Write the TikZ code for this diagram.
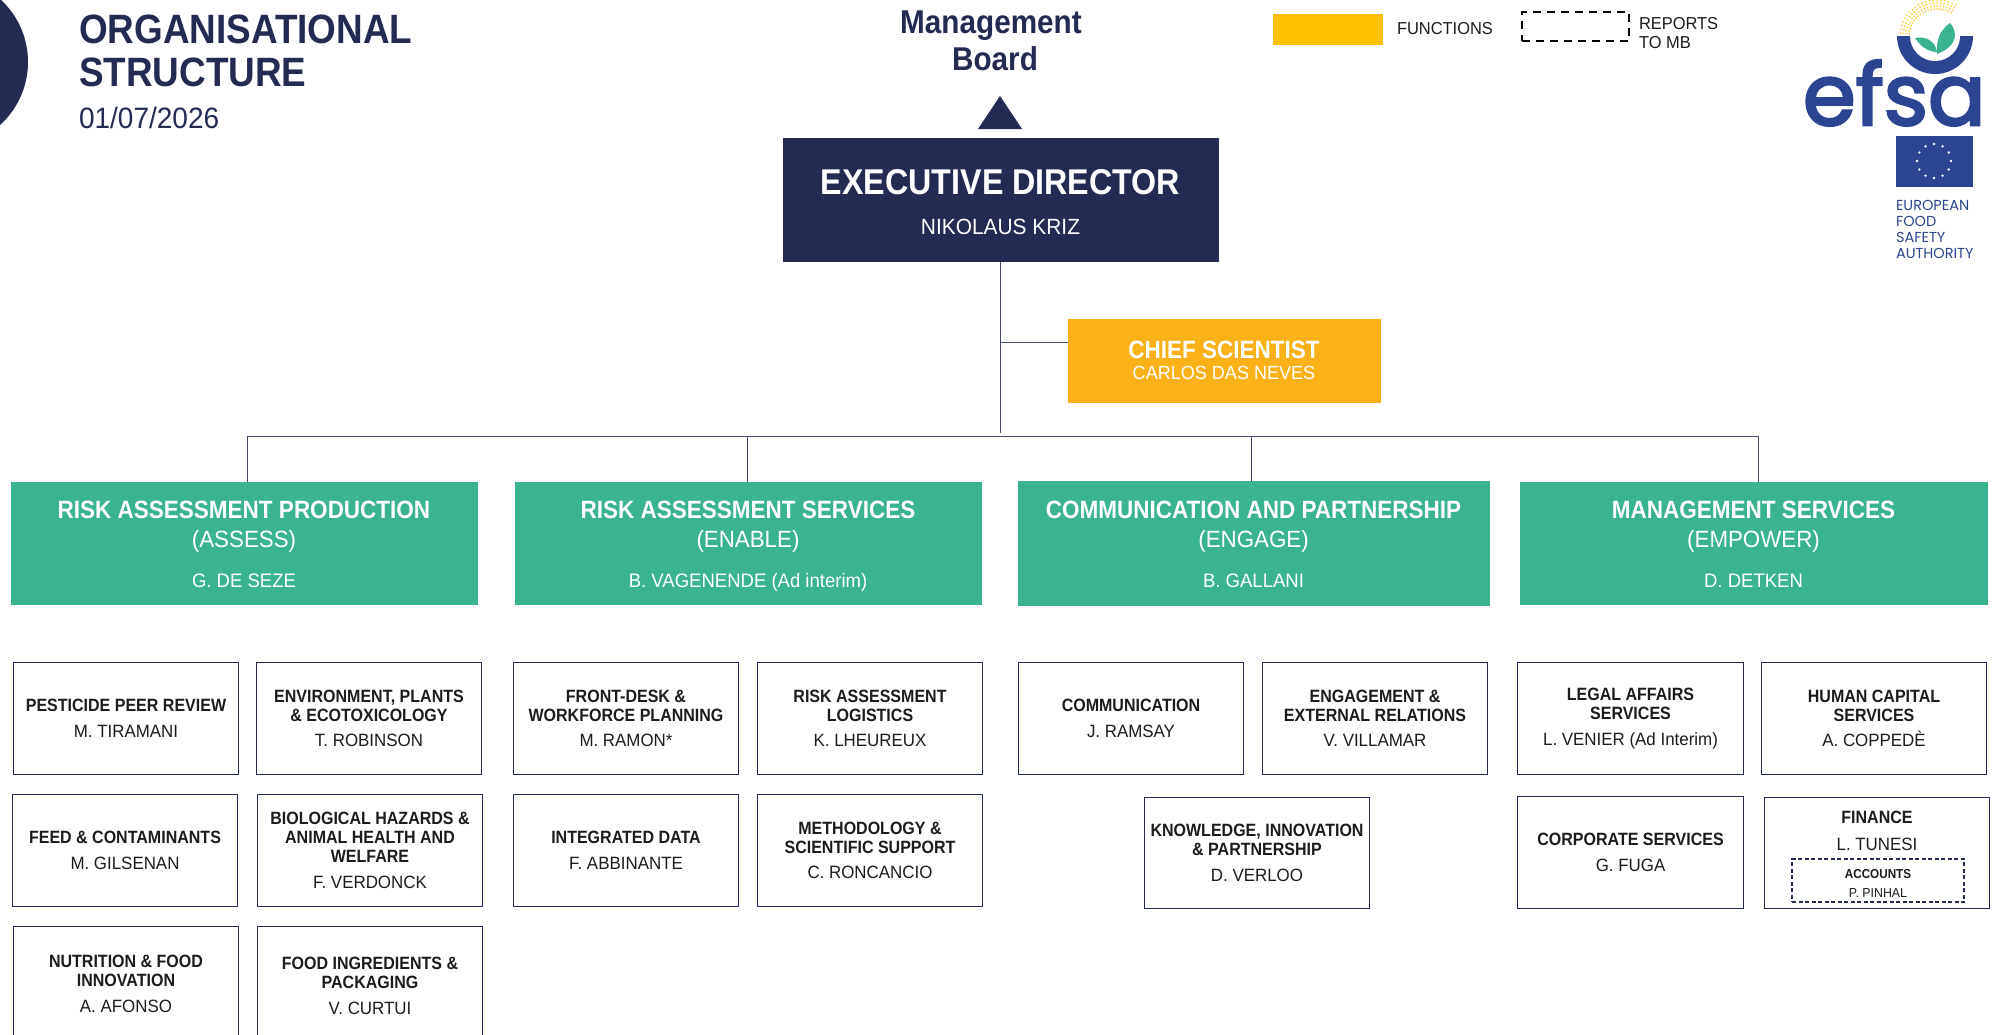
\documentclass[tikz,border=0pt]{standalone}
\usepackage{fontspec}
\setmainfont{Liberation Sans}[FakeStretch=0.95,BoldFeatures={FakeStretch=0.9}]
\newfontfamily\logofont{Poppins}[Scale=1]
\newfontfamily\logoheavy{Poppins}[FakeBold=3]
\definecolor{navy}{HTML}{232B52}
\definecolor{teal}{HTML}{3AB391}
\definecolor{amber}{HTML}{FDB119}
\definecolor{legendy}{HTML}{FFC000}
\definecolor{efsablue}{HTML}{2B4593}
\definecolor{inkdark}{HTML}{1C1C1C}
\newcommand\fs[2]{\fontsize{#1}{#2}\selectfont}
\newcommand\nl{\\\bfseries }
\tikzset{
  boxbase/.style={rectangle,inner sep=0pt,outer sep=0pt,align=center},
  unitbox/.style={boxbase,draw=navy,line width=1.4pt,fill=white,text=inkdark,font=\fs{17.8}{19}},
  divbox/.style={boxbase,fill=teal,text=white,font=\fs{19.5}{24}},
  link/.style={draw=navy!85,line width=1pt},
  plain/.style={inner sep=0pt,outer sep=0pt},
}
\newcommand\placebox[7][unitbox]{%
  \node[#1,minimum width={(#5-#3-1)*1pt},minimum height={(#6-#4-1)*1pt}] (#2) at ({(#3+#5)/2},{(#4+#6)/2}) {#7};}
\newcommand\unitb[7]{\placebox{#1}{#2}{#3}{#4}{#5}{\bfseries #6\\[6.5pt]\mdseries #7}}
\newcommand\divb[8]{\placebox[divbox]{#1}{#2}{#3}{#4}{#5}{{\rule{0pt}{25pt}\fs{25}{29}\bfseries #6}\\[5pt]{\fs{23.5}{29}#7}\\[16pt]#8\rule[-5pt]{0pt}{5pt}}}
\begin{document}
\begin{tikzpicture}[x=1pt,y=-1pt]
\useasboundingbox (0,0) rectangle (1993,1034);
\clip (0,0) rectangle (1993,1034);
% header
\fill[navy] (-57,62) circle (85);
\node[plain,anchor=base west,text=navy,font=\fs{41}{43}\bfseries] (title1) at (79,43) {ORGANISATIONAL};
\node[plain,anchor=base west,text=navy,font=\fs{41}{43}\bfseries] (title2) at (79,86) {STRUCTURE};
\node[plain,anchor=base west,text=navy,font=\fs{29.5}{30}] (date) at (79,128) {01/07/2026};
\node[plain,text=navy,font=\fs{33}{37}\bfseries,align=center] (mb) at (991,41) {Management\\\hspace*{8pt}Board};
\fill[navy] (1000,96) -- (1022,129) -- (978,129) -- cycle;
% legend
\node[boxbase,fill=legendy,minimum width=110pt,minimum height=31pt] (legf) at (1328,29.5) {};
\node[plain,anchor=west,text=inkdark,font=\fs{17.3}{20}] (legft) at (1397,29) {FUNCTIONS};
\node[boxbase,draw=black,dash pattern=on 8pt off 6pt,line width=1.6pt,minimum width=107pt,minimum height=29pt] (legr) at (1575.5,26.5) {};
\node[plain,anchor=west,text=inkdark,font=\fs{17.3}{19},align=left] (legrt) at (1639,33) {REPORTS\\TO MB};
% top boxes
\placebox[boxbase,fill=navy,text=white,font=\fs{22}{25}]{ed}{782}{137}{1219}{262}{{\rule{0pt}{30pt}\fs{35.8}{40}\bfseries EXECUTIVE DIRECTOR}\\[15.5pt]NIKOLAUS KRIZ}
\placebox[boxbase,fill=amber,text=white,font=\fs{19}{21}]{chief}{1067}{318}{1381}{403}{{\fs{25}{25}\bfseries CHIEF SCIENTIST}\\CARLOS DAS NEVES}
% divisions
\divb{d1}{10}{481}{478}{605}{RISK ASSESSMENT PRODUCTION}{(ASSESS)}{G. DE SEZE}
\divb{d2}{514}{481}{982}{605}{RISK ASSESSMENT SERVICES}{(ENABLE)}{B. VAGENENDE (Ad interim)}
\divb{d3}{1017}{480}{1490}{606}{COMMUNICATION AND PARTNERSHIP}{(ENGAGE)}{B. GALLANI}
\divb{d4}{1519}{481}{1988}{605}{MANAGEMENT SERVICES}{(EMPOWER)}{D. DETKEN}
% connectors
\coordinate (trunkend) at (1000,433);
\coordinate (trunkc) at (1000,342);
\coordinate (b1) at (247,436);
\coordinate (b2) at (747,436);
\coordinate (b3) at (1251,436);
\coordinate (b4) at (1758,436);
\draw[link] (ed.south -| trunkend) -- (trunkend);
\draw[link] (trunkc) -- (trunkc -| chief.west);
\draw[link] (b1) -- (b4);
\draw[link] (b1) -- (b1 |- d1.north);
\draw[link] (b2) -- (b2 |- d2.north);
\draw[link] (b3) -- (b3 |- d3.north);
\draw[link] (b4) -- (b4 |- d4.north);
% units row 1
\unitb{u11}{13}{662}{239}{775}{PESTICIDE PEER REVIEW}{M. TIRAMANI}
\unitb{u12}{256}{662}{482}{775}{ENVIRONMENT, PLANTS\nl\& ECOTOXICOLOGY}{T. ROBINSON}
\unitb{u13}{513}{662}{739}{775}{FRONT-DESK \&\nl WORKFORCE PLANNING}{M. RAMON*}
\unitb{u14}{757}{662}{983}{775}{RISK ASSESSMENT\nl LOGISTICS}{K. LHEUREUX}
\unitb{u15}{1018}{662}{1244}{775}{COMMUNICATION}{J. RAMSAY}
\unitb{u16}{1262}{662}{1488}{775}{ENGAGEMENT \&\nl EXTERNAL RELATIONS}{V. VILLAMAR}
\unitb{u17}{1517}{662}{1744}{775}{LEGAL AFFAIRS\nl SERVICES}{L. VENIER (Ad Interim)}
\unitb{u18}{1761}{662}{1987}{775}{HUMAN CAPITAL\nl SERVICES}{A. COPPEDÈ}
% units row 2
\unitb{u21}{12}{794}{238}{907}{FEED \& CONTAMINANTS}{M. GILSENAN}
\unitb{u22}{257}{794}{483}{907}{BIOLOGICAL HAZARDS \&\nl ANIMAL HEALTH AND\nl WELFARE}{F. VERDONCK}
\unitb{u23}{513}{794}{739}{907}{INTEGRATED DATA}{F. ABBINANTE}
\unitb{u24}{757}{794}{983}{907}{METHODOLOGY \&\nl SCIENTIFIC SUPPORT}{C. RONCANCIO}
\unitb{u25}{1144}{797}{1370}{909}{KNOWLEDGE, INNOVATION\nl\& PARTNERSHIP}{D. VERLOO}
\unitb{u26}{1517}{796}{1744}{909}{CORPORATE SERVICES}{G. FUGA}
\placebox{u27}{1764}{797}{1990}{909}{}
\node[plain,anchor=north,align=center,text=inkdark,font=\fs{17.8}{19}] (fin) at (u27.north) {\rule{0pt}{26pt}\bfseries FINANCE\\[8pt]\mdseries L. TUNESI};
\node[boxbase,draw=navy,dash pattern=on 4pt off 2.5pt,line width=1.2pt,minimum width=172pt,minimum height=43pt,text=inkdark,font=\fs{13}{16}] (acc) at (1878,880.5) {\rule{0pt}{15pt}\bfseries ACCOUNTS\\[3pt]\mdseries P. PINHAL};
% units row 3 (run off the page)
\unitb{u31}{13}{926}{239}{1042}{NUTRITION \& FOOD\nl INNOVATION}{A. AFONSO}
\unitb{u32}{257}{926}{483}{1046}{FOOD INGREDIENTS \&\nl PACKAGING}{V. CURTUI}
% logo
\foreach \r in {28,31,34,37}{
  \foreach \a in {60,66,...,180}{
    \fill[legendy!75] ({1937+\r*cos(\a)},{37-\r*sin(\a)}) circle (1);
  }
}
\fill[white] (1897,36) rectangle (1973,42);
\fill[efsablue] (1897,36) -- (1973,36) arc[start angle=0,end angle=180,radius=38] -- cycle;
\fill[white] (1910,36) -- (1960,36) arc[start angle=0,end angle=180,radius=25] -- cycle;
\fill[teal] (1915,38) .. controls (1925,36) and (1935,40) .. (1937,52) .. controls (1928,52) and (1920,46) .. cycle;
\fill[teal] (1950,23) .. controls (1958,32) and (1958,46) .. (1937,54) .. controls (1936,40) and (1940,30) .. cycle;
\node[plain,anchor=base west,text=efsablue,font=\fs{85}{90}\logoheavy] (efsa) at (1803,125) {efsa};
\fill[efsablue] (1896,136) rectangle (1973,187);
\foreach \a in {0,30,...,330}{
  \fill[white] ({1934+17*cos(\a)},{161+17*sin(\a)}) circle (1.3);
}
\node[plain,anchor=north west,text=efsablue,font=\fs{14.5}{16}\logofont,align=left] (eu) at (1896,200) {EUROPEAN\\FOOD\\SAFETY\\AUTHORITY};
\end{tikzpicture}
\end{document}
